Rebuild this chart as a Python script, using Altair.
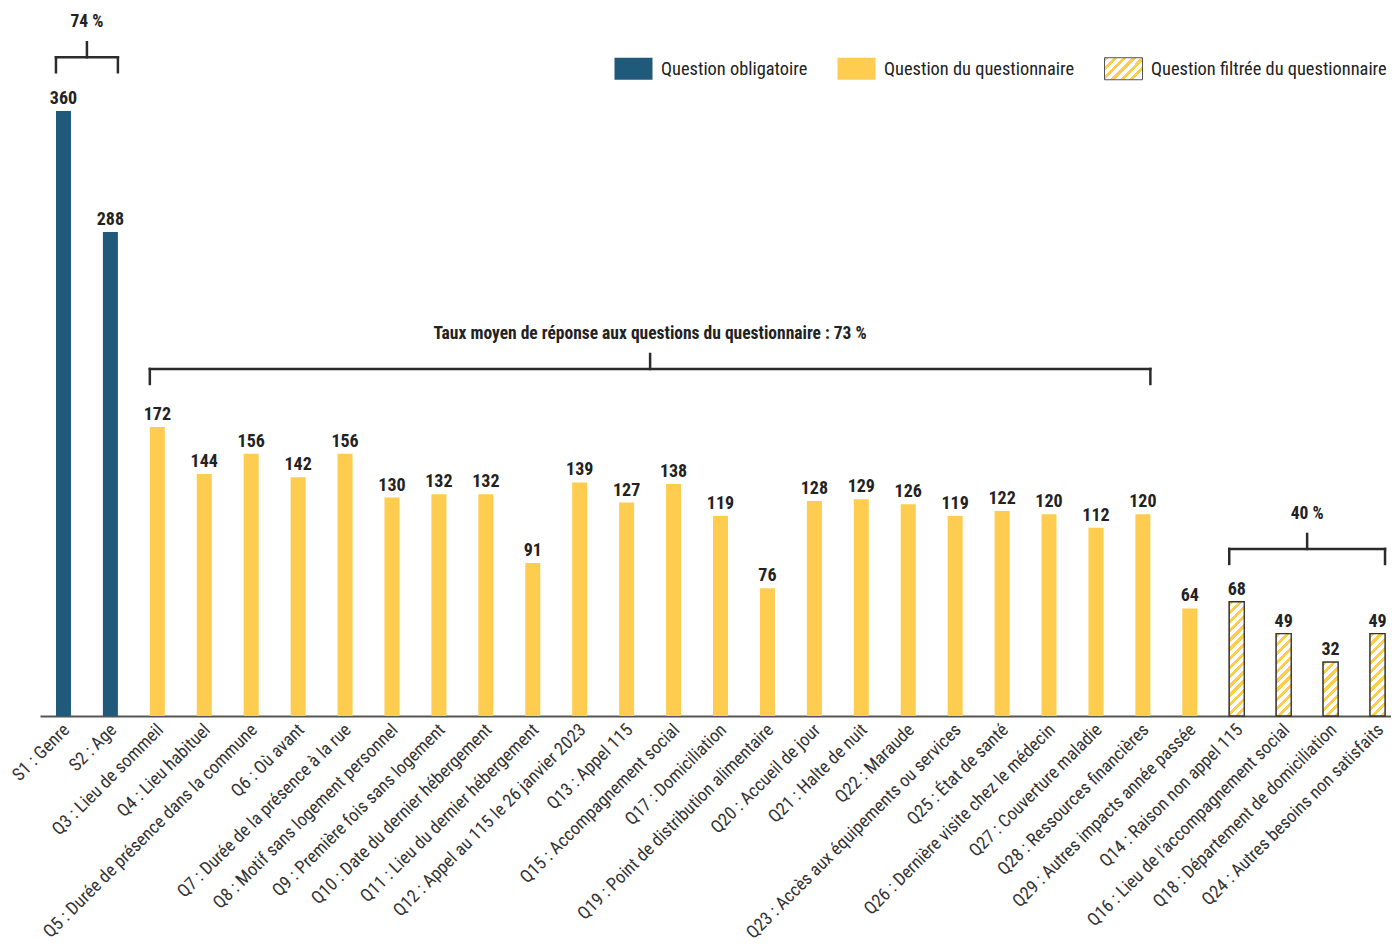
import json
import math
import altair as alt
import pandas as pd

# ---------------- data ----------------
categories = [
    "S1 : Genre", "S2 : Age",
    "Q3 : Lieu de sommeil", "Q4 : Lieu habituel",
    "Q5 : Durée de présence dans la commune", "Q6 : Où avant",
    "Q7 : Durée de la présence à la rue", "Q8 : Motif sans logement personnel",
    "Q9 : Première fois sans logement", "Q10 : Date du dernier hébergement",
    "Q11 : Lieu du dernier hébergement", "Q12 : Appel au 115 le 26 janvier 2023",
    "Q13 : Appel 115", "Q15 : Accompagnement social", "Q17 : Domiciliation",
    "Q19 : Point de distribution alimentaire", "Q20 : Accueil de jour",
    "Q21 : Halte de nuit", "Q22 : Maraude",
    "Q23 : Accès aux équipements ou services", "Q25 : État de santé",
    "Q26 : Dernière visite chez le médecin", "Q27 : Couverture maladie",
    "Q28 : Ressources financières", "Q29 : Autres impacts année passée",
    "Q14 : Raison non appel 115", "Q16 : Lieu de l'accompagnement social",
    "Q18 : Département de domiciliation", "Q24 : Autres besoins non satisfaits",
]
values = [360, 288, 172, 144, 156, 142, 156, 130, 132, 132, 91, 139, 127, 138,
          119, 76, 128, 129, 126, 119, 122, 120, 112, 120, 64, 68, 49, 32, 49]
type_names = ["Question obligatoire", "Question du questionnaire",
              "Question filtrée du questionnaire"]
types = [0] * 2 + [1] * 23 + [2] * 4

bracket_labels = ["74 %", "Taux moyen de réponse aux questions du questionnaire : 73 %", "40 %"]
bracket_start = [0, 2, 25]
bracket_end = [1, 23, 28]
bracket_level = [392, 206.5, 99.4]

# ---------------- style ----------------
BLUE = "#1f5a7b"
YELLOW = "#fecc4e"
DARK = "#2b2b2b"
FONT = "Roboto Condensed, Liberation Sans Narrow, Roboto, sans-serif"

W_PLOT = 1351
H_PLOT = 708
X_DOMAIN = [-0.5, 28.287]
Y_DOMAIN = [0, 421.3]
BAR_W = 15
PX_PER_UNIT = H_PLOT / Y_DOMAIN[1]


def hatch(w, h, period=6.5, frac=0.47):
    """Diagonal stripes as a linear gradient in bounding-box units."""
    T = period * math.sqrt(2) * w / (w * w + h * h)
    tmax = w * (w + h) / (w * w + h * h)
    stops = []
    t = 0.0
    while t < tmax + T:
        a = min(t, 1.0)
        b = min(t + frac * T, 1.0)
        c = min(t + T, 1.0)
        stops += [
            {"offset": round(a, 5), "color": YELLOW},
            {"offset": round(b, 5), "color": YELLOW},
            {"offset": round(b, 5), "color": "#ffffff"},
            {"offset": round(c, 5), "color": "#ffffff"},
        ]
        if c >= 1.0:
            break
        t += T
    return {"gradient": "linear", "x1": 0, "y1": 0, "x2": 1, "y2": round(h / w, 4),
            "stops": stops}


df = pd.DataFrame({
    "idx": list(range(len(categories))),
    "cat": categories,
    "value": values,
    "type": [type_names[t] for t in types],
})

br = pd.DataFrame({
    "label": bracket_labels,
    "start": bracket_start,
    "end": bracket_end,
    "level": bracket_level,
})

label_expr = json.dumps(categories, ensure_ascii=False) + "[datum.value]"

x_scale = alt.Scale(domain=X_DOMAIN, nice=False, zero=False, padding=0)
y_scale = alt.Scale(domain=Y_DOMAIN, nice=False, padding=0)

legend_grad = hatch(38, 22)

x_axis = alt.Axis(
    values=list(range(len(categories))), labelExpr=label_expr, title=None,
    ticks=False, grid=False, labelAngle=315, labelAlign="right",
    labelBaseline="middle", labelPadding=11, labelOffset=3, labelFontSize=18,
    labelFont=FONT, labelColor="#333333", labelOverlap=False, labelFlush=False,
    labelBound=False, domainColor="#555555", domainWidth=2, labelLimit=400,
)

legend = alt.Legend(
    title=None, orient="none", direction="horizontal",
    legendX=574, legendY=41, columnPadding=27, labelOffset=8,
    symbolType="M-1,-0.58H1V0.58H-1Z", symbolSize=1444,
    symbolStrokeWidth=1, labelFontSize=18.4, labelFont=FONT,
    labelColor="#222222", labelLimit=400, padding=0,
)

base = alt.Chart(df)

bars = base.mark_bar(size=BAR_W, strokeWidth=1.3).encode(
    x=alt.X("idx:Q", scale=x_scale, axis=x_axis),
    y=alt.Y("value:Q", scale=y_scale, axis=None),
    fill=alt.Fill(
        "type:N",
        scale=alt.Scale(domain=type_names,
                        range=[BLUE, YELLOW, {"expr": json.dumps(legend_grad)}]),
        legend=legend,
    ),
    stroke=alt.Stroke(
        "type:N",
        scale=alt.Scale(domain=type_names, range=["transparent", "transparent", "#555555"]),
        legend=legend,
    ),
)

hatched_layers = []
for i, (v, t) in enumerate(zip(values, types)):
    if t == 2:
        h = v * PX_PER_UNIT
        hatched_layers.append(
            base.transform_filter(alt.datum.idx == i).mark_bar(
                size=BAR_W, stroke="#333333", strokeWidth=1.3, fill=hatch(BAR_W, h)
            ).encode(x=alt.X("idx:Q", scale=x_scale), y=alt.Y("value:Q", scale=y_scale))
        )

value_text = base.mark_text(
    dy=-7, baseline="alphabetic", fontSize=18, fontWeight="bold", font=FONT,
    color="#222222",
).encode(
    x=alt.X("idx:Q", scale=x_scale),
    y=alt.Y("value:Q", scale=y_scale),
    text=alt.Text("value:Q"),
)

bbase = alt.Chart(br).transform_calculate(mid="(datum.start + datum.end) / 2")
rule_kw = dict(color=DARK, strokeWidth=2.5, strokeCap="square")

horiz = bbase.mark_rule(xOffset=-BAR_W / 2, x2Offset=BAR_W / 2, **rule_kw).encode(
    x=alt.X("start:Q", scale=x_scale), x2="end:Q",
    y=alt.Y("level:Q", scale=y_scale),
)
left_tick = bbase.mark_rule(xOffset=-BAR_W / 2, y2Offset=15, **rule_kw).encode(
    x=alt.X("start:Q", scale=x_scale),
    y=alt.Y("level:Q", scale=y_scale), y2="level:Q",
)
right_tick = bbase.mark_rule(xOffset=BAR_W / 2, y2Offset=15, **rule_kw).encode(
    x=alt.X("end:Q", scale=x_scale),
    y=alt.Y("level:Q", scale=y_scale), y2="level:Q",
)
mid_tick = bbase.mark_rule(y2Offset=-15, **rule_kw).encode(
    x=alt.X("mid:Q", scale=x_scale),
    y=alt.Y("level:Q", scale=y_scale), y2="level:Q",
)
br_text = bbase.mark_text(
    dy=-30, baseline="alphabetic", fontSize=17.5, fontWeight="bold", font=FONT,
    color="#222222",
).encode(
    x=alt.X("mid:Q", scale=x_scale),
    y=alt.Y("level:Q", scale=y_scale),
    text="label:N",
)

chart = alt.layer(
    bars, *hatched_layers, value_text, horiz, left_tick, right_tick, mid_tick, br_text
).properties(
    width=W_PLOT, height=H_PLOT,
    autosize=alt.AutoSizeParams(type="none"),
    padding={"left": 32, "top": 0, "right": 0, "bottom": 227},
    background="white",
).configure_view(stroke=None)

chart.save("out.html", embed_options={"renderer": "svg", "actions": False})
